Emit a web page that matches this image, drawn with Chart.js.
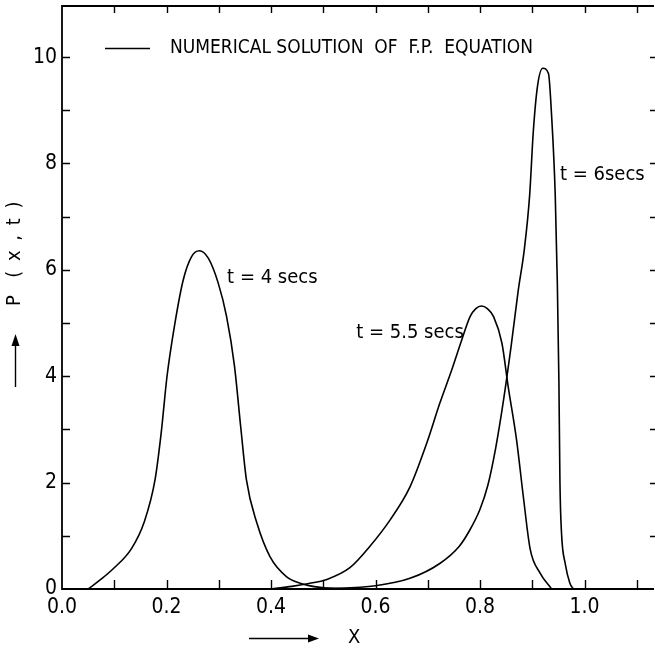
<!DOCTYPE html>
<html>
<head>
<meta charset="utf-8">
<script src="https://cdn.jsdelivr.net/npm/chart.js@4.4.1/dist/chart.umd.min.js"></script>
<style>
  html, body { margin: 0; padding: 0; background: #fff; }
  #wrap { width: 655px; height: 651px; }
</style>
</head>
<body>
<div id="wrap"><canvas id="myChart" width="655" height="651"></canvas></div>
<script>
const FONT = '"Liberation Sans Narrow", "DejaVu Sans Condensed", sans-serif';

/* t = 4 secs */
const x4 = [0.05, 0.073, 0.098, 0.133, 0.157, 0.178, 0.190, 0.201, 0.216, 0.232, 0.248, 0.263, 0.280, 0.299, 0.315, 0.330, 0.342, 0.353, 0.373, 0.398, 0.430, 0.456, 0.494, 0.55];
const p4 = [0, 0.17, 0.38, 0.76, 1.25, 2.05, 2.95, 4.0, 4.99, 5.81, 6.25, 6.36, 6.22, 5.75, 5.12, 4.20, 3.05, 2.05, 1.24, 0.61, 0.23, 0.11, 0.03, 0];

/* t = 5.5 secs */
const x55 = [0.40, 0.44, 0.47, 0.507, 0.551, 0.589, 0.628, 0.666, 0.698, 0.723, 0.746, 0.765, 0.781, 0.792, 0.803, 0.814, 0.826, 0.842, 0.854, 0.870, 0.883, 0.896, 0.915, 0.937];
const p55 = [0, 0.05, 0.10, 0.18, 0.40, 0.80, 1.30, 1.92, 2.74, 3.49, 4.12, 4.68, 5.12, 5.27, 5.32, 5.27, 5.12, 4.62, 3.80, 2.80, 1.73, 0.75, 0.30, 0];

/* t = 6 secs */
const x6 = [0.44, 0.513, 0.6, 0.666, 0.723, 0.76, 0.78, 0.80, 0.815, 0.83, 0.845, 0.86, 0.873, 0.885, 0.895, 0.902, 0.910, 0.920, 0.931, 0.937, 0.944, 0.948, 0.951, 0.953, 0.956, 0.963, 0.972, 0.979];
const p6 = [0, 0.01, 0.06, 0.20, 0.48, 0.80, 1.10, 1.50, 1.95, 2.65, 3.55, 4.60, 5.60, 6.40, 7.40, 8.60, 9.45, 9.79, 9.69, 8.9, 7.4, 5.75, 3.9, 2.0, 1.05, 0.48, 0.11, 0];

/* axis ticks */
const xLabels = [0.0, 0.2, 0.4, 0.6, 0.8, 1.0];
const yLabels = [0, 2, 4, 6, 8, 10];
const xMinor = 0.1;
const yMinor = 1;

/* curve labels: [text, x, y] */
const curveNames = [
  ["t = 4 secs", 0.316, 5.85],
  ["t = 5.5 secs", 0.563, 4.81],
  ["t = 6secs", 0.953, 7.78]
];
const legendText = "NUMERICAL SOLUTION  OF  F.P.  EQUATION";

const toPoints = (xs, ys) => xs.map((x, i) => ({ x: x, y: ys[i] }));

const near = (v, list) => list.some(l => Math.abs(l - v) < 1e-6);

/* frame, inward ticks, legend, labels */
const extras = {
  id: "extras",
  afterDraw(chart) {
    const ctx = chart.ctx;
    const a = chart.chartArea;
    const xs = chart.scales.x;
    const ys = chart.scales.y;
    ctx.save();
    ctx.strokeStyle = "#000";
    ctx.fillStyle = "#000";

    // frame (right side runs off the picture)
    ctx.lineWidth = 1.8;
    ctx.beginPath();
    ctx.moveTo(a.right, a.top);
    ctx.lineTo(a.left, a.top);
    ctx.lineTo(a.left, a.bottom);
    ctx.lineTo(a.right, a.bottom);
    ctx.stroke();

    ctx.lineWidth = 1.4;
    ctx.beginPath();
    for (let i = 1; i * xMinor < xs.max; i++) {
      const px = Math.round(xs.getPixelForValue(i * xMinor)) + 0.5;
      ctx.moveTo(px, a.bottom);
      ctx.lineTo(px, a.bottom - 9);
      ctx.moveTo(px, a.top);
      ctx.lineTo(px, a.top + 7);
    }
    for (let v = 1; v < ys.max; v += yMinor) {
      const py = Math.round(ys.getPixelForValue(v)) + 0.5;
      ctx.moveTo(a.left, py);
      ctx.lineTo(a.left + 8, py);
      ctx.moveTo(a.right + 1, py);
      ctx.lineTo(a.right - 4, py);
    }
    ctx.stroke();

    // legend
    ctx.lineWidth = 1.5;
    ctx.beginPath();
    ctx.moveTo(a.left + 43, 48.5);
    ctx.lineTo(a.left + 88, 48.5);
    ctx.stroke();
    ctx.font = "19px " + FONT;
    ctx.textBaseline = "middle";
    ctx.textAlign = "left";
    ctx.fillText(legendText, a.left + 108, 48);

    // curve names
    ctx.font = "20px " + FONT;
    curveNames.forEach(c => {
      ctx.fillText(c[0], xs.getPixelForValue(c[1]), ys.getPixelForValue(c[2]));
    });

    // x title with arrow
    ctx.lineWidth = 1.4;
    ctx.beginPath();
    ctx.moveTo(249, 638.5);
    ctx.lineTo(316, 638.5);
    ctx.stroke();
    ctx.beginPath();
    ctx.moveTo(319, 638.5);
    ctx.lineTo(308, 634.5);
    ctx.lineTo(308, 642.5);
    ctx.closePath();
    ctx.fill();
    ctx.fillText("X", 348, 638);

    // y title with arrow
    ctx.beginPath();
    ctx.moveTo(15.5, 387);
    ctx.lineTo(15.5, 338);
    ctx.stroke();
    ctx.beginPath();
    ctx.moveTo(15.5, 334);
    ctx.lineTo(11.5, 346);
    ctx.lineTo(19.5, 346);
    ctx.closePath();
    ctx.fill();
    ctx.translate(15, 306);
    ctx.rotate(-Math.PI / 2);
    ctx.letterSpacing = "2px";
    ctx.fillText("P  ( x , t )", 0, 0);
    ctx.restore();
  }
};

const lineSet = (pts) => ({
  data: pts,
  borderColor: "#000",
  borderWidth: 1.6,
  pointRadius: 0,
  fill: false,
  cubicInterpolationMode: "monotone"
});

const config = {
  type: "line",
  data: {
    datasets: [
      lineSet(toPoints(x4, p4)),
      lineSet(toPoints(x55, p55)),
      lineSet(toPoints(x6, p6))
    ]
  },
  options: {
    responsive: false,
    animation: false,
    devicePixelRatio: 1,
    layout: { padding: { top: 6, right: 1, left: 0, bottom: 0 } },
    plugins: { legend: { display: false }, tooltip: { enabled: false } },
    scales: {
      x: {
        type: "linear",
        min: 0,
        max: 1.133,
        afterFit: s => { s.height = 62; s.paddingLeft = 0; s.paddingRight = 0; },
        grid: { display: false, drawTicks: false },
        border: { display: false },
        ticks: {
          stepSize: 0.2,
          includeBounds: false,
          autoSkip: false,
          maxRotation: 0,
          padding: 6,
          color: "#000",
          font: { family: FONT, size: 21 },
          callback: v => near(v, xLabels) ? v.toFixed(1) : ""
        }
      },
      y: {
        min: 0,
        max: 10.96,
        afterFit: s => { s.width = 62; s.paddingTop = 0; s.paddingBottom = 0; },
        grid: { display: false, drawTicks: false },
        border: { display: false },
        ticks: {
          stepSize: 2,
          includeBounds: false,
          padding: 5,
          color: "#000",
          font: { family: FONT, size: 21 },
          callback: v => near(v, yLabels) ? String(v) : ""
        }
      }
    }
  },
  plugins: [extras]
};

const myChart = new Chart(document.getElementById("myChart").getContext("2d"), config);
</script>
</body>
</html>
